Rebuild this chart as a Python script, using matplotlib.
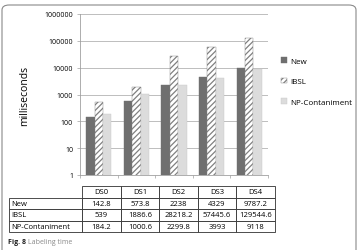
import numpy as np
import matplotlib.pyplot as plt
from matplotlib.patches import FancyBboxPatch

plt.rcParams['font.family'] = ['Open Sans', 'DejaVu Sans']
plt.rcParams['hatch.color'] = '#6a6a6a'
plt.rcParams['hatch.linewidth'] = 0.9

categories = ['DS0', 'DS1', 'DS2', 'DS3', 'DS4']
series = ['New', 'IBSL', 'NP-Contaniment']
new_vals = [142.8, 573.8, 2238, 4329, 9787.2]
ibsl_vals = [539, 1886.6, 28218.2, 57445.6, 129544.6]
np_vals = [184.2, 1000.6, 2299.8, 3993, 9118]
cell_text = [['142.8', '573.8', '2238', '4329', '9787.2'],
             ['539', '1886.6', '28218.2', '57445.6', '129544.6'],
             ['184.2', '1000.6', '2299.8', '3993', '9118']]

W, H = 358, 251
fig = plt.figure(figsize=(W / 100, H / 100), dpi=100)

# outer rounded frame
frame = FancyBboxPatch((2 / W, -10 / H), 354 / W, 255 / H,
                       boxstyle="round,pad=0,rounding_size=0.02",
                       transform=fig.transFigure, fill=False,
                       edgecolor='#8a8a8a', linewidth=0.8)
fig.patches.append(frame)

ax = fig.add_axes([80 / W, 1 - 176 / H, (268 - 80) / W, (176 - 15) / H])
x = np.arange(len(categories))
bw = 0.225
ax.bar(x - bw, new_vals, bw, color='#6f6f6f', edgecolor='#6f6f6f', linewidth=0.3, label=series[0], zorder=3)
ax.bar(x, ibsl_vals, bw, color='white', edgecolor='#808080', hatch='//////', linewidth=0.3, label=series[1], zorder=3)
ax.bar(x + bw, np_vals, bw, color='#dcdcdc', edgecolor='#c8c8c8', linewidth=0.3, label=series[2], zorder=3)

ax.set_yscale('log')
ax.set_ylim(1, 1e6)
ax.set_xlim(-0.5, len(categories) - 0.5)
ax.set_yticks([1, 10, 100, 1000, 10000, 100000, 1000000])
ax.set_yticklabels(['1', '10', '100', '1000', '10000', '100000', '1000000'])
ax.yaxis.set_minor_locator(plt.NullLocator())
ax.tick_params(axis='y', labelsize=5, length=2, color='#a0a0a0', width=0.5, pad=3)
ax.set_xticks(np.arange(len(categories) + 1) - 0.5)
ax.set_xticklabels([])
ax.tick_params(axis='x', length=2.5, color='#a0a0a0', width=0.5)
ax.grid(axis='y', color='#bdbdbd', linewidth=0.7, zorder=0)
for s in ['top', 'right']:
    ax.spines[s].set_visible(False)
for s in ['left', 'bottom']:
    ax.spines[s].set_color('#a0a0a0')
    ax.spines[s].set_linewidth(0.6)
ax.set_ylabel('milliseconds', fontsize=7.5, labelpad=10)

ax.legend(loc='center left', bbox_to_anchor=(1.03, 0.58), frameon=False,
          fontsize=5.8, handlelength=0.7, handleheight=0.7, labelspacing=1.6,
          handletextpad=0.4)

# data table
tax = fig.add_axes([9 / W, 1 - 233 / H, (275 - 9) / W, (233 - 187) / H])
tax.axis('off')
rows = [[''] + categories] + [[series[i]] + cell_text[i] for i in range(3)]
col_w = [73 / 266] + [(266 - 73) / 5 / 266] * 5
tbl = tax.table(cellText=rows, colWidths=col_w, bbox=[0, 0, 1, 1])
tbl.auto_set_font_size(False)
for (r, c), cell in tbl.get_celld().items():
    cell.set_fontsize(5.5)
    cell.set_linewidth(0.6)
    cell.set_edgecolor('#303030')
    cell.PAD = 0.03
    if c == 0:
        cell._loc = 'left'
        cell.get_text().set_ha('left')
    else:
        cell._loc = 'center'
        cell.get_text().set_ha('center')
    if r == 0 and c == 0:
        cell.visible_edges = ''

fig.text(8 / W, 1 - 243 / H, 'Fig. 8', fontsize=5, fontweight='bold', va='center', color='#222222')
fig.text(28 / W, 1 - 243 / H, 'Labeling time', fontsize=5, va='center', color='#8a8a8a')

fig.savefig('out.png', dpi=100)
